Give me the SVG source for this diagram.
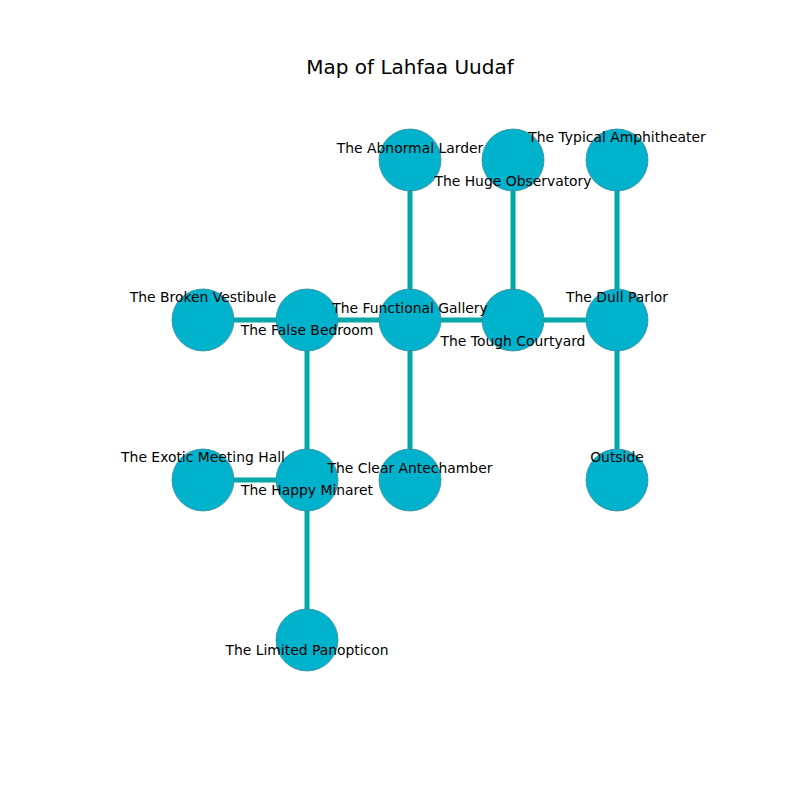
<svg xmlns="http://www.w3.org/2000/svg" width="800" height="800" viewBox="0 0 800 800">
<style>
.e{stroke:#00a8a8;stroke-width:5;fill:none}
.n{fill:#00b2cc;stroke:#3f8a96;stroke-width:0.8}
.t{font-family:"DejaVu Sans",sans-serif;font-size:13.9px;fill:#000;text-anchor:middle}
.h{font-family:"DejaVu Sans",sans-serif;font-size:20px;fill:#000;text-anchor:middle}
</style>
<rect width="800" height="800" fill="#fff"/>
<text class="h" x="410" y="74">Map of Lahfaa Uudaf</text>
<g id="connectors">
<line class="e" x1="203" y1="320" x2="307" y2="320"/>
<line class="e" x1="307" y1="320" x2="410" y2="320"/>
<line class="e" x1="410" y1="320" x2="513" y2="320"/>
<line class="e" x1="513" y1="320" x2="617" y2="320"/>
<line class="e" x1="410" y1="160" x2="410" y2="320"/>
<line class="e" x1="513" y1="160" x2="513" y2="320"/>
<line class="e" x1="617" y1="160" x2="617" y2="320"/>
<line class="e" x1="617" y1="320" x2="617" y2="480"/>
<line class="e" x1="307" y1="320" x2="307" y2="480"/>
<line class="e" x1="410" y1="320" x2="410" y2="480"/>
<line class="e" x1="203" y1="480" x2="307" y2="480"/>
<line class="e" x1="307" y1="480" x2="307" y2="640"/>
</g>
<g id="n_abnormal_larder"><circle class="n" cx="410" cy="160" r="31"/></g>
<g id="n_huge_observatory"><circle class="n" cx="513" cy="160" r="31"/></g>
<g id="n_typical_amphitheater"><circle class="n" cx="617" cy="160" r="31"/></g>
<g id="n_broken_vestibule"><circle class="n" cx="203" cy="320" r="31"/></g>
<g id="n_false_bedroom"><circle class="n" cx="307" cy="320" r="31"/></g>
<g id="n_functional_gallery"><circle class="n" cx="410" cy="320" r="31"/></g>
<g id="n_tough_courtyard"><circle class="n" cx="513" cy="320" r="31"/></g>
<g id="n_dull_parlor"><circle class="n" cx="617" cy="320" r="31"/></g>
<g id="n_exotic_meeting_hall"><circle class="n" cx="203" cy="480" r="31"/></g>
<g id="n_happy_minaret"><circle class="n" cx="307" cy="480" r="31"/></g>
<g id="n_clear_antechamber"><circle class="n" cx="410" cy="480" r="31"/></g>
<g id="n_outside"><circle class="n" cx="617" cy="480" r="31"/></g>
<g id="n_limited_panopticon"><circle class="n" cx="307" cy="640" r="31"/></g>
<g id="labels">
<text class="t" x="410" y="153">The Abnormal Larder</text>
<text class="t" x="513" y="186">The Huge Observatory</text>
<text class="t" x="617" y="142">The Typical Amphitheater</text>
<text class="t" x="203" y="302">The Broken Vestibule</text>
<text class="t" x="307" y="335">The False Bedroom</text>
<text class="t" x="410" y="313">The Functional Gallery</text>
<text class="t" x="513" y="346">The Tough Courtyard</text>
<text class="t" x="617" y="302">The Dull Parlor</text>
<text class="t" x="203" y="462">The Exotic Meeting Hall</text>
<text class="t" x="307" y="495">The Happy Minaret</text>
<text class="t" x="410" y="473">The Clear Antechamber</text>
<text class="t" x="617" y="462">Outside</text>
<text class="t" x="307" y="655">The Limited Panopticon</text>
</g>
</svg>
